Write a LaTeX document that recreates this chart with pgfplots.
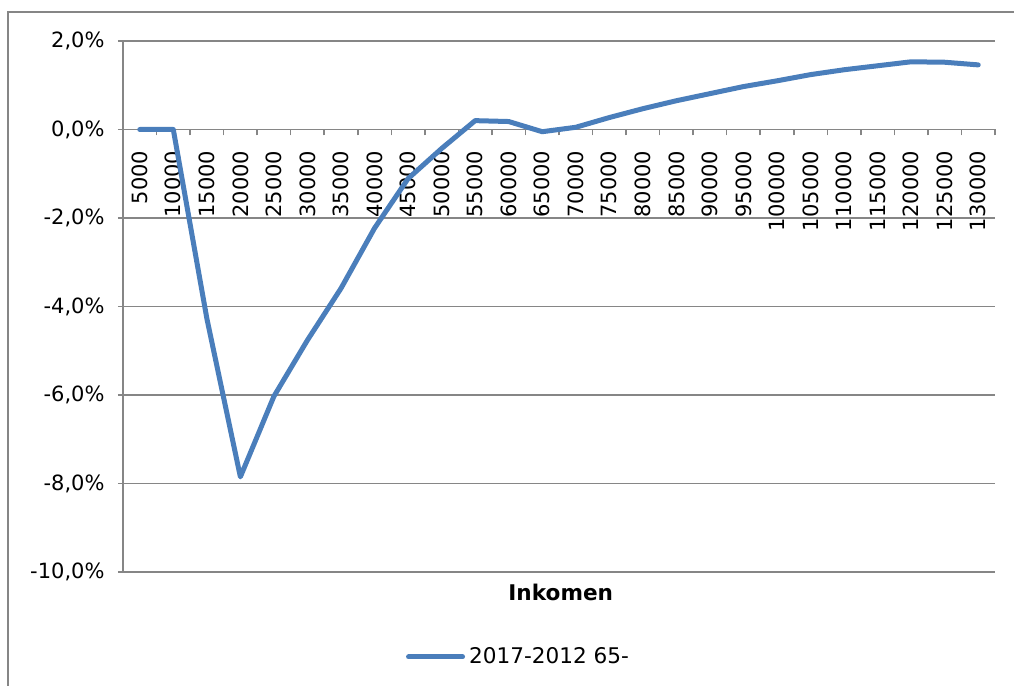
\documentclass[border=0pt]{standalone}
\usepackage{pgfplots}
\pgfplotsset{compat=1.18}
\usepackage{fontspec}
\setmainfont{DejaVu Sans}
\definecolor{serblue}{RGB}{74,126,187}
\definecolor{gridgray}{RGB}{134,134,134}
\begin{document}
\begin{tikzpicture}
\path[use as bounding box] (0,0) rectangle (507pt,343pt);
\draw[gridgray, line width=0.75pt] (4pt,-5pt) -- (4pt,337pt) -- (520pt,337pt);
\begin{axis}[
  at={(61.5pt,57pt)}, anchor=south west,
  scale only axis, width=436pt, height=265.5pt,
  xmin=-0.5, xmax=25.5, ymin=-10, ymax=2,
  axis y line*=left, axis x line*=middle,
  axis line style={gridgray, line width=0.75pt, -},
  every tick/.style={gridgray, line width=0.75pt},
  ytick={-10,-8,-6,-4,-2,0,2},
  yticklabels={{-10,0\%},{-8,0\%},{-6,0\%},{-4,0\%},{-2,0\%},{0,0\%},{2,0\%}},
  ymajorgrids, grid style={gridgray, line width=0.75pt},
  ytick align=outside, major tick length=2.5pt,
  y tick label style={xshift=-3.2pt},
  xtick={0,...,25},
  xticklabels={5000,10000,15000,20000,25000,30000,35000,40000,45000,50000,55000,60000,65000,70000,75000,80000,85000,90000,95000,100000,105000,110000,115000,120000,125000,130000},
  major x tick style={draw=none},
  minor xtick={-0.5,0.5,...,25.5},
  minor x tick style={gridgray, line width=0.75pt},
  xtick align=outside, minor tick length=3pt,
  x tick label style={rotate=90, anchor=east, inner sep=0pt},
  xticklabel shift=8pt,
  tick label style={font=\fontsize{10.5}{12}\selectfont},
  xlabel={Inkomen},
  xlabel style={at={(axis description cs:0.502,-0.0377)}, anchor=center, font=\fontsize{10.8}{12}\selectfont\bfseries},
  legend style={at={(axis description cs:0.4547,-0.160)}, anchor=center, draw=none, fill=none, font=\fontsize{10.8}{12}\selectfont},
  legend image code/.code={\draw[#1, line cap=round] (0pt,0pt) -- (27pt,0pt);},
  clip=false,
]
\addplot[serblue, line width=2.5pt, line join=round, line cap=round] table {
x y
0 0
1 0
2 -4.27
3 -7.85
4 -6.03
5 -4.76
6 -3.59
7 -2.23
8 -1.11
9 -0.43
10 0.20
11 0.18
12 -0.05
13 0.05
14 0.27
15 0.47
16 0.65
17 0.81
18 0.97
19 1.10
20 1.24
21 1.35
22 1.44
23 1.53
24 1.52
25 1.46
};
\addlegendentry{2017-2012 65-}
\end{axis}
\end{tikzpicture}
\end{document}
